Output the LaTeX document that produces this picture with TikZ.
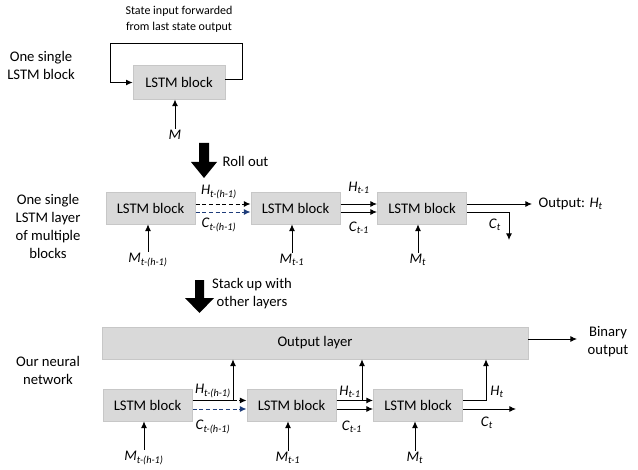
\documentclass[tikz,border=0pt]{standalone}
\usepackage{fontspec}
\setmainfont{Carlito}
\usetikzlibrary{arrows.meta,calc}
\definecolor{navy}{HTML}{1F3D7A}
\newcommand\vsub[2]{\textit{#1}\textsubscript{\textit{#2}}}
\begin{document}
\begin{tikzpicture}[x=0.75pt,y=-0.75pt,
 blk/.style={draw=black!22,fill=black!15,line width=0.5pt,minimum width=67pt,minimum height=24pt,inner sep=0pt,font=\fontsize{11}{13}\selectfont},
 lab/.style={font=\fontsize{11}{13.5}\selectfont,align=center,inner sep=1pt},
 vl/.style={font=\fontsize{11}{13}\selectfont,inner sep=1pt},
 arr/.style={-{Latex[length=5pt,width=4.5pt]},line width=0.7pt},
 dsh/.style={arr,dash pattern=on 3pt off 2pt},
 bdsh/.style={dsh,draw=navy}]
\useasboundingbox (0,0) rectangle (638,470);
% ---- top
\node[blk,minimum width=69pt,minimum height=25pt] (top) at (179,82.5) {LSTM block};
\node[font=\fontsize{9}{12}\selectfont,align=center] (st) at (179,19) {State input forwarded\\from last state output};
\node[lab] (l1) at (41,65) {One single\\LSTM block};
\draw[arr] ([yshift=2pt]top.east) -- ++(17,0) |- (110,43) |- (top.west);
\node[vl] (m0) at (175,135) {\textit{M}};
\draw[arr] (m0.north) -- (m0.north |- top.south);
\fill (199,143) -- (209,143) -- (209,162) -- (217,162) -- (204,178) -- (191,162) -- (199,162) -- cycle;
\node[vl,anchor=west] (ro) at (221,161) {Roll out};
% ---- middle
\node[lab] (l2) at (48,226) {One single\\LSTM layer\\of multiple\\blocks};
\node[blk] (b1) at (150.5,208) {LSTM block};
\node[blk] (b2) at (295.5,208) {LSTM block};
\node[blk] (b3) at (422,208) {LSTM block};
\draw[dsh] ([yshift=3pt]b1.east) -- ([yshift=3pt]b2.west);
\draw[bdsh] ([yshift=-3pt]b1.east) -- ([yshift=-3pt]b2.west);
\node[vl] (h1) at (219,192) {\vsub{H}{t-(h-1)}};
\node[vl] (c1) at (219,225) {\vsub{C}{t-(h-1)}};
\draw[arr] ([yshift=3pt]b2.east) -- ([yshift=3pt]b3.west);
\draw[arr] ([yshift=-3pt]b2.east) -- ([yshift=-3pt]b3.west);
\node[vl] (h2) at (359,188) {\vsub{H}{t-1}};
\node[vl] (c2) at (359,228) {\vsub{C}{t-1}};
\coordinate (oh) at (532,204);
\draw[arr] ([yshift=3pt]b3.east) -- (oh);
\node[vl,anchor=west] (out) at (537,204) {Output: \textit{H}\textsubscript{\textit{t}}};
\coordinate (cd) at (509,240);
\draw[arr] ([yshift=-3pt]b3.east) -| (cd);
\node[vl] (c3) at (495,225) {\vsub{C}{t}};
\node[vl] (mi1) at (148,260) {\vsub{M}{t-(h-1)}};
\node[vl] (mi2) at (292,260) {\vsub{M}{t-1}};
\node[vl] (mi3) at (418,260) {\vsub{M}{t}};
\draw[arr] (mi1.north) -- (mi1.north |- b1.south);
\draw[arr] (mi2.north) -- (mi2.north |- b2.south);
\draw[arr] (mi3.north) -- (mi3.north |- b3.south);
\fill (195,280) -- (204,280) -- (204,298) -- (214,298) -- (199.5,313) -- (185,298) -- (195,298) -- cycle;
\node[lab] (su) at (252,294) {Stack up with\\other layers};
% ---- bottom
\node[lab] (l3) at (48,370) {Our neural\\network};
\node[blk,minimum width=319.5pt] (ol) at (315,343) {Output layer};
\node[lab] (bo) at (608,342) {Binary\\output};
\coordinate (ob) at (577,339);
\draw[arr] ([yshift=3pt]ol.east) -- (ob);
\node[blk] (d1) at (147.5,405) {LSTM block};
\node[blk] (d2) at (291.5,405) {LSTM block};
\node[blk] (d3) at (418,405) {LSTM block};
\coordinate (j1) at (233,400.5);
\coordinate (j2) at (362,400.5);
\coordinate (j3) at (486,400.5);
\draw[dsh] ([yshift=3.4pt]d1.east) -- ([yshift=3.4pt]d2.west);
\draw[arr] ([yshift=3.4pt]d1.east) -| (j1 |- ol.south);
\draw[bdsh] ([yshift=-3pt]d1.east) -- ([yshift=-3pt]d2.west);
\node[vl] (hh1) at (213,391) {\vsub{H}{t-(h-1)}};
\node[vl] (cc1) at (213,427) {\vsub{C}{t-(h-1)}};
\draw[arr] ([yshift=3.4pt]d2.east) -- ([yshift=3.4pt]d3.west);
\draw[arr] ([yshift=3.4pt]d2.east) -| (j2 |- ol.south);
\draw[arr] ([yshift=-3pt]d2.east) -- ([yshift=-3pt]d3.west);
\node[vl] (hh2) at (350,392) {\vsub{H}{t-1}};
\node[vl] (cc2) at (352,427) {\vsub{C}{t-1}};
\draw[arr] ([yshift=3.4pt]d3.east) -| (j3 |- ol.south);
\coordinate (ce) at (516,409);
\draw[arr] ([yshift=-3pt]d3.east) -- (ce);
\node[vl] (hh3) at (497,392) {\vsub{H}{t}};
\node[vl] (cc3) at (487,423) {\vsub{C}{t}};
\node[vl] (n1) at (144,458) {\vsub{M}{t-(h-1)}};
\node[vl] (n2) at (288,458) {\vsub{M}{t-1}};
\node[vl] (n3) at (415,458) {\vsub{M}{t}};
\draw[arr] (n1.north) -- (n1.north |- d1.south);
\draw[arr] (n2.north) -- (n2.north |- d2.south);
\draw[arr] (n3.north) -- (n3.north |- d3.south);
\end{tikzpicture}
\end{document}
